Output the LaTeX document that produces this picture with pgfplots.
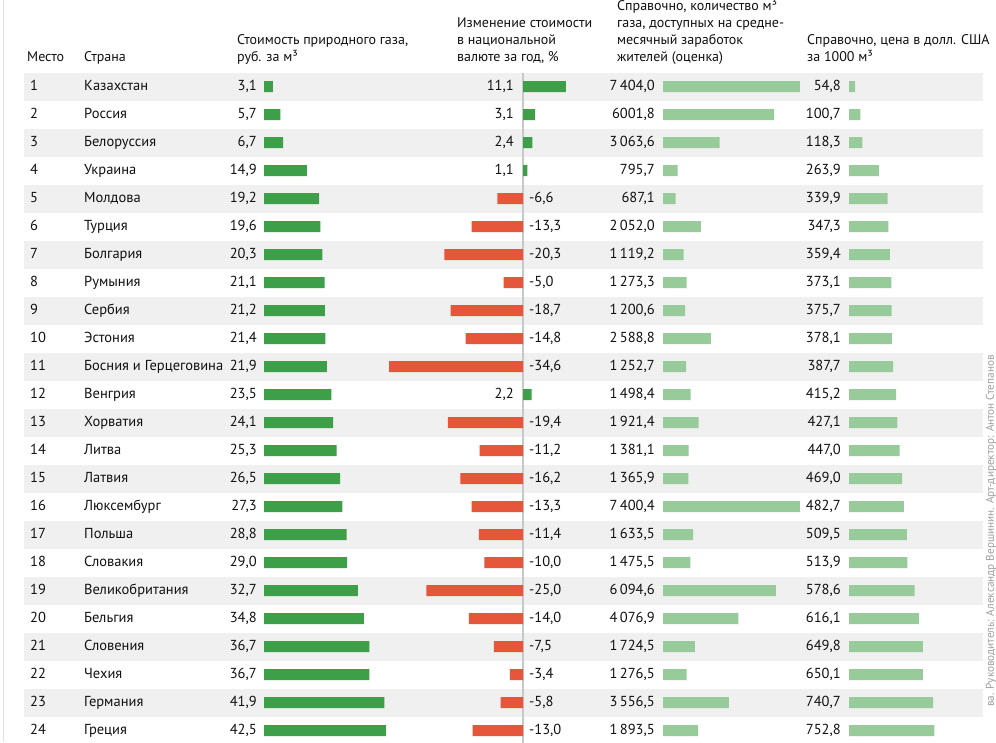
\documentclass[border=0pt]{standalone}
\usepackage{pgfplots}
\pgfplotsset{compat=1.18}
\usepackage{pgfplotstable}
\usepackage{fontspec}
\setmainfont{PT Sans}
\definecolor{gdark}{HTML}{3DA048}
\definecolor{glight}{HTML}{97CB9A}
\definecolor{rred}{HTML}{E5563B}
\definecolor{stripe}{HTML}{F0F0F0}
\definecolor{zline}{HTML}{C8C8C8}
\definecolor{txt}{HTML}{111111}
\newcommand\rowfont{\fontsize{14.5}{17}\selectfont}
\newcommand\headfont{\fontsize{14}{17}\selectfont}

\pgfplotstableread[col sep=semicolon]{
rank;country;cost;chg;mthree;usd;la;lb;lc;ld
1;Казахстан;3.1;11.1;7404.0;54.8;3,1;11,1;7\,404,0;54,8
2;Россия;5.7;3.1;6001.8;100.7;5,7;3,1;6001,8;100,7
3;Белоруссия;6.7;2.4;3063.6;118.3;6,7;2,4;3\,063,6;118,3
4;Украина;14.9;1.1;795.7;263.9;14,9;1,1;795,7;263,9
5;Молдова;19.2;-6.6;687.1;339.9;19,2;-6,6;687,1;339,9
6;Турция;19.6;-13.3;2052.0;347.3;19,6;-13,3;2\,052,0;347,3
7;Болгария;20.3;-20.3;1119.2;359.4;20,3;-20,3;1\,119,2;359,4
8;Румыния;21.1;-5.0;1273.3;373.1;21,1;-5,0;1\,273,3;373,1
9;Сербия;21.2;-18.7;1200.6;375.7;21,2;-18,7;1\,200,6;375,7
10;Эстония;21.4;-14.8;2588.8;378.1;21,4;-14,8;2\,588,8;378,1
11;Босния и Герцеговина;21.9;-34.6;1252.7;387.7;21,9;-34,6;1\,252,7;387,7
12;Венгрия;23.5;2.2;1498.4;415.2;23,5;2,2;1\,498,4;415,2
13;Хорватия;24.1;-19.4;1921.4;427.1;24,1;-19,4;1\,921,4;427,1
14;Литва;25.3;-11.2;1381.1;447.0;25,3;-11,2;1\,381,1;447,0
15;Латвия;26.5;-16.2;1365.9;469.0;26,5;-16,2;1\,365,9;469,0
16;Люксембург;27.3;-13.3;7400.4;482.7;27,3;-13,3;7\,400,4;482,7
17;Польша;28.8;-11.4;1633.5;509.5;28,8;-11,4;1\,633,5;509,5
18;Словакия;29.0;-10.0;1475.5;513.9;29,0;-10,0;1\,475,5;513,9
19;Великобритания;32.7;-25.0;6094.6;578.6;32,7;-25,0;6\,094,6;578,6
20;Бельгия;34.8;-14.0;4076.9;616.1;34,8;-14,0;4\,076,9;616,1
21;Словения;36.7;-7.5;1724.5;649.8;36,7;-7,5;1\,724,5;649,8
22;Чехия;36.7;-3.4;1276.5;650.1;36,7;-3,4;1\,276,5;650,1
23;Германия;41.9;-5.8;3556.5;740.7;41,9;-5,8;3\,556,5;740,7
24;Греция;42.5;-13.0;1893.5;752.8;42,5;-13,0;1\,893,5;752,8
}\data

\pgfplotsset{
  rowax/.style={scale only axis, height=672pt, ymin=0.5, ymax=24.5, y dir=reverse,
    hide axis, clip=false, anchor=north west},
  lbl/.style={only marks, mark=*, mark size=0pt, mark options={draw=none,fill=none},
    nodes near coords, point meta=explicit symbolic,
    nodes near coords style={inner sep=0pt, font=\rowfont, text=txt, yshift=-1.8pt}},
  hbar/.style={xbar, bar shift=0pt, bar width=11pt, draw=none},
}

\begin{document}
\begin{tikzpicture}
\useasboundingbox (0pt,0pt) rectangle (996pt,-742pt);
\clip (0pt,0pt) rectangle (996pt,-742pt);
\begin{scope}[x=1pt,y=1pt]
\fill[white] (0,0) rectangle (996,-742);
\draw[line width=1pt, black!12] (3,0) -- (3,-742);
\foreach \k in {0,...,11} {
  \fill[stripe] (24,{-72.5-56*\k}) rectangle (983,{-100.5-56*\k});
}
\begin{scope}[every node/.style={inner sep=0pt, anchor=base west, font=\headfont, text=txt}]
\node at (27,-61) {Место};
\node at (84,-61) {Страна};
\node at (237,-44) {Стоимость природного газа,};
\node at (237,-61) {руб. за м³};
\node at (457,-27) {Изменение стоимости};
\node at (457,-44) {в национальной};
\node at (457,-61) {валюте за год, \%};
\node at (617,-10) {Справочно, количество м³};
\node at (617,-27) {газа, доступных на средне-};
\node at (617,-44) {месячный заработок};
\node at (617,-61) {жителей (оценка)};
\node at (807,-44) {Справочно, цена в долл. США};
\node at (807,-61) {за 1000 м³};
\end{scope}
\node[rotate=90, anchor=east, inner sep=0pt, font=\fontsize{11.2}{13}\selectfont, text=black!38]
  at (991,-355) {ва. Руководитель: Александр Вершинин. Арт-директор: Антон Степанов};
\end{scope}

% rank and country
\begin{axis}[rowax, width=996pt, xmin=0, xmax=996, at={(0pt,-72.5pt)}]
\addplot[lbl, nodes near coords style={anchor=mid west}] table[x expr=30, y=rank, meta=rank] {\data};
\addplot[lbl, nodes near coords style={anchor=mid west}] table[x expr=84, y=rank, meta=country] {\data};
\end{axis}

% column 1: cost
\begin{axis}[rowax, width=129.15pt, xmin=0, xmax=45, at={(264pt,-72.5pt)}]
\addplot[hbar, fill=gdark] table[x=cost, y=rank] {\data};
\addplot[lbl, nodes near coords style={anchor=mid east, xshift=-7pt}] table[x expr=0, y=rank, meta=la] {\data};
\end{axis}

% column 2: change
\begin{axis}[rowax, width=185.76pt, xmin=-36, xmax=12, at={(383.68pt,-72.5pt)}]
\draw[zline, line width=1.5pt] (axis cs:0,0.5) -- (axis cs:0,24.5);
\addplot[hbar, fill=gdark, restrict x to domain=0:100] table[x=chg, y=rank] {\data};
\addplot[hbar, fill=rred, restrict x to domain=-100:0] table[x=chg, y=rank] {\data};
\addplot[lbl, restrict x to domain=-1:1, nodes near coords style={anchor=mid east, xshift=-9pt}]
  table[x expr={\thisrow{chg}>0 ? 0 : 1000}, y=rank, meta=lb] {\data};
\addplot[lbl, restrict x to domain=-1:1, nodes near coords style={anchor=mid west, xshift=6pt}]
  table[x expr={\thisrow{chg}<0 ? 0 : 1000}, y=rank, meta=lb] {\data};
\end{axis}

% column 3: m3 per salary
\begin{axis}[rowax, width=138.75pt, xmin=0, xmax=7500, at={(663pt,-72.5pt)}]
\addplot[hbar, fill=glight] table[x=mthree, y=rank] {\data};
\addplot[lbl, nodes near coords style={anchor=mid east, xshift=-8pt}] table[x expr=0, y=rank, meta=lc] {\data};
\end{axis}

% column 4: USD per 1000 m3
\begin{axis}[rowax, width=90.8pt, xmin=0, xmax=800, at={(849pt,-72.5pt)}]
\addplot[hbar, fill=glight] table[x=usd, y=rank] {\data};
\addplot[lbl, nodes near coords style={anchor=mid east, xshift=-8pt}] table[x expr=0, y=rank, meta=ld] {\data};
\end{axis}
\end{tikzpicture}
\end{document}
